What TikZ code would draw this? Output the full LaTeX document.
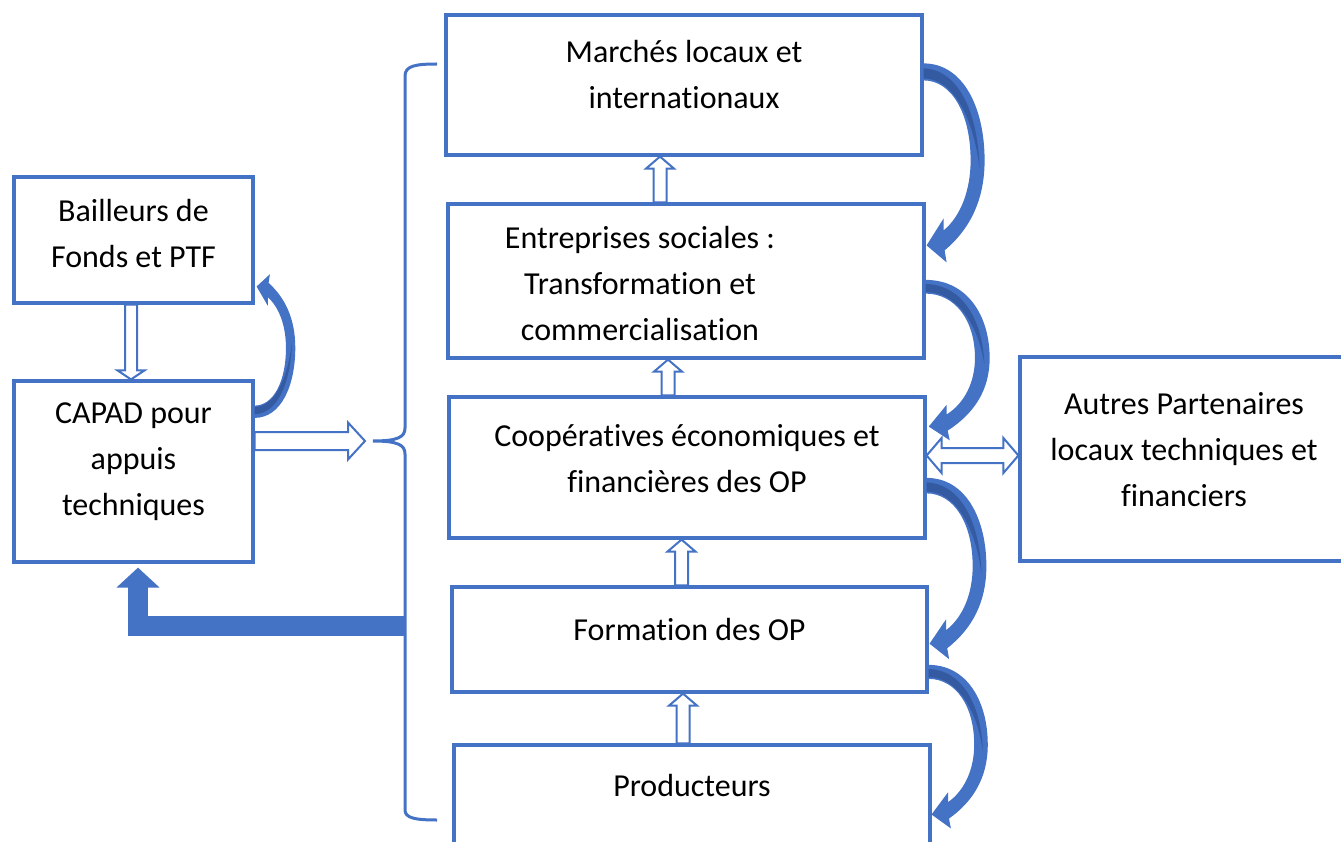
\documentclass[tikz,border=0pt]{standalone}
\usepackage{fontspec}
\setmainfont{Carlito}[Ligatures=CommonOff]
\usetikzlibrary{arrows.meta,calc}

\definecolor{wdblue}{RGB}{68,114,196}
\definecolor{wddark}{RGB}{52,90,162}

\tikzset{
  box/.style={draw=wdblue, line width=3.2pt, inner sep=0pt},
  txt/.style={font=\fontsize{32}{46}\selectfont, align=center, inner sep=0pt},
  hollowline/.style={draw=wdblue, line width=2pt, fill=white, line join=miter},
  fat/.style={draw=wdblue, line width=20pt, -{Triangle[length=20pt,width=42pt]}},
  brace/.style={draw=wdblue, line width=3pt},
  bendarrow/.pic={
    \fill[wdblue] (0,0) .. controls (40,0) and (61,45) .. (61,97)
      .. controls (61,137) and (46,166) .. (21,187) -- (23,199) -- (3,182)
      -- (20,155) -- (20,167) .. controls (37,153) and (47,127) .. (47,97)
      .. controls (47,50) and (28,17) .. (0,17) -- cycle;
    \fill[wddark] (0,5) .. controls (33,6) and (54,45) .. (56,105)
      .. controls (50,55) and (30,15) .. (0,15) -- cycle;
  }
}

% hollow arrow: from, to, shaft half width, head half width, head length
\newcommand{\hollowarrow}[5]{%
  \draw[hollowline] let \p1=(#1), \p2=(#2),
    \n1={atan2(\y2-\y1,\x2-\x1)}, \n2={veclen(\x2-\x1,\y2-\y1)} in
    [shift={(\p1)}, rotate=\n1]
    (0pt,-#3) -- ({\n2*1pt-#5},-#3) -- ({\n2*1pt-#5},-#4) -- ({\n2*1pt},0pt)
    -- ({\n2*1pt-#5},#4) -- ({\n2*1pt-#5},#3) -- (0pt,#3) -- cycle;}
\newcommand{\hollowboth}[5]{%
  \draw[hollowline] let \p1=(#1), \p2=(#2),
    \n1={atan2(\y2-\y1,\x2-\x1)}, \n2={veclen(\x2-\x1,\y2-\y1)} in
    [shift={(\p1)}, rotate=\n1]
    (0pt,0pt) -- (#5,-#4) -- (#5,-#3) -- ({\n2*1pt-#5},-#3) -- ({\n2*1pt-#5},-#4)
    -- ({\n2*1pt},0pt) -- ({\n2*1pt-#5},#4) -- ({\n2*1pt-#5},#3) -- (#5,#3)
    -- (#5,#4) -- cycle;}

\begin{document}
\begin{tikzpicture}[x=1pt, y=-1pt]
\useasboundingbox (0,0) rectangle (1341,842);
\clip (0,0) rectangle (1341,842);

%%% chaine centrale
\node[box, minimum width=476, minimum height=140] (march) at (684,85) {};
\node[txt] (marcht) at ([yshift=10pt]march.center) {Marchés locaux et\\internationaux};

\node[box, minimum width=476, minimum height=154] (entr) at (686,281) {};
\node[txt] (entrt) at ([xshift=-46pt, yshift=-3pt]entr.center) {Entreprises sociales :\\Transformation et\\commercialisation};

\node[box, minimum width=476, minimum height=141] (coop) at (687,467.5) {};
\node[txt] (coopt) at ([yshift=8.5pt]coop.center) {Coopératives économiques et\\financières des OP};

\node[box, minimum width=475, minimum height=105] (form) at (689.5,639.5) {};
\node[txt] (formt) at ([yshift=9.5pt]form.center) {Formation des OP};

\node[box, minimum width=476, minimum height=105] (prod) at (692,797.5) {};
\node[txt] (prodt) at ([yshift=11.5pt]prod.center) {Producteurs};

%%% gauche
\node[box, minimum width=239, minimum height=126] (bail) at (133.5,240) {};
\node[txt] (bailt) at ([yshift=6.5pt]bail.center) {Bailleurs de\\Fonds et PTF};

\node[box, minimum width=239, minimum height=181] (capad) at (133.5,471.5) {};
\node[txt] (capadt) at ([yshift=9.5pt]capad.center) {CAPAD pour\\appuis\\techniques};

%%% droite
\node[box, minimum width=328, minimum height=204] (autr) at (1184,459) {};
\node[txt] (autrt) at ([yshift=9pt]autr.center) {Autres Partenaires\\locaux techniques et\\financiers};

%%% accolade
\coordinate (brtip) at (373,441);
\coordinate (brc) at (403.5,626);
\draw[brace] (437,64) .. controls (415,64) and (405,66) .. (405,76) -- (405,428)
  .. controls (405,437) and (398,441) .. (brtip)
  .. controls (398,441) and (405,445) .. (405,454) -- (405,810)
  .. controls (405,818) and (415,820) .. (437,820);

%%% fleches creuses
\coordinate (a1) at ([xshift=-26pt]entr.north);
\coordinate (a2) at ([xshift=-19pt]coop.north);
\coordinate (a3) at ([xshift=-8pt]form.north);
\coordinate (a4) at ([xshift=-9pt]prod.north);
\hollowarrow{a1}{a1 |- march.south}{6.5pt}{14pt}{12pt}
\hollowarrow{a2}{a2 |- entr.south}{6.5pt}{14pt}{12pt}
\hollowarrow{a3}{a3 |- coop.south}{6.5pt}{14pt}{12pt}
\hollowarrow{a4}{a4 |- form.south}{6.5pt}{14pt}{12pt}

\coordinate (b1) at ([xshift=-2.5pt]bail.south);
\hollowarrow{b1}{b1 |- capad.north}{6pt}{13.5pt}{9pt}

\coordinate (c1) at ([yshift=30.5pt]capad.east);
\hollowarrow{c1}{[xshift=-8pt]brtip}{9pt}{18.5pt}{17pt}

\coordinate (d1) at ([yshift=12pt]coop.east);
\hollowboth{d1}{d1 -| autr.west}{7.5pt}{17.5pt}{15pt}

%%% retour vers CAPAD
\draw[fat, shorten >=4pt] (brc) -| ([xshift=4.5pt]capad.south);

%%% fleches courbes
\pic[xscale=1.0, yscale=1.0] at ([yshift=-50pt]march.north east) {bendarrow};
\pic[xscale=1.05, yscale=0.806] at ([yshift=-77.5pt]entr.north east) {bendarrow};
\pic[xscale=0.98, yscale=0.911] at ([yshift=-82.5pt]coop.north east) {bendarrow};
\pic[xscale=0.97, yscale=0.822] at ([yshift=-79.5pt]form.north east) {bendarrow};
\pic[xscale=0.667, yscale=-0.722] at ([yshift=-38.5pt]capad.north east) {bendarrow};

\end{tikzpicture}
\end{document}
